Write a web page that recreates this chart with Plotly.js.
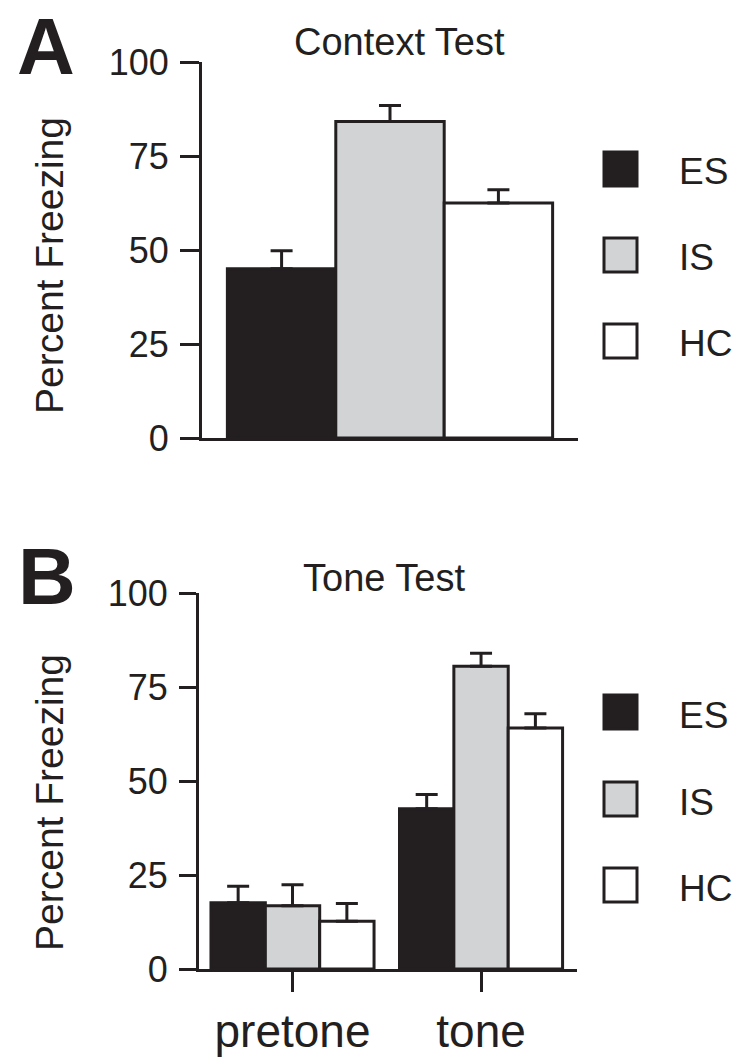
<!DOCTYPE html>
<html>
<head>
<meta charset="utf-8">
<script src="https://cdn.plot.ly/plotly-3.0.1.min.js"></script>
<style>
  html, body { margin: 0; padding: 0; background: #ffffff; }
  #chart { width: 752px; height: 1064px; }
</style>
</head>
<body>
<div id="chart"></div>
<script>
// ---------------- data ----------------
const seriesNames = ['ES', 'IS', 'HC'];
const contextGroups = ['Context'];
const toneGroups = ['pretone', 'tone'];

// Panel A: Context Test (percent freezing, mean and SEM)
const esContext = [45.0];
const isContext = [84.2];
const hcContext = [62.5];
const esContextErr = [4.8];
const isContextErr = [4.2];
const hcContextErr = [3.5];

// Panel B: Tone Test (pretone, tone)
const esTone = [17.6, 42.6];
const isTone = [16.8, 80.5];
const hcTone = [12.7, 64.1];
const esToneErr = [4.4, 3.8];
const isToneErr = [5.6, 3.5];
const hcToneErr = [4.7, 3.8];

const yTickVals = [0, 25, 50, 75, 100];
const yTickText = ['0', '25', '50', '75', '100'];

// ---------------- style ----------------
const W = 752, H = 1064;
const INK = '#231f20';
const fills = ['#231f20', '#d1d3d4', '#ffffff'];
const FONT = 'Liberation Sans, Arial, Helvetica, sans-serif';
const px = v => v / W;
const py = v => 1 - v / H;

const contextMeans = [esContext, isContext, hcContext];
const contextErrs = [esContextErr, isContextErr, hcContextErr];
const toneMeans = [esTone, isTone, hcTone];
const toneErrs = [esToneErr, isToneErr, hcToneErr];

function barTrace(name, idx, xs, ys, errs, xa, ya) {
  return {
    type: 'bar',
    name: name,
    x: xs,
    y: ys,
    xaxis: xa,
    yaxis: ya,
    showlegend: false,
    marker: { color: fills[idx], line: { color: INK, width: 3 } },
    error_y: {
      type: 'data',
      symmetric: false,
      array: errs,
      arrayminus: errs.map(() => 0),
      color: INK,
      thickness: 3,
      width: 11
    },
    hoverinfo: 'skip'
  };
}

const traces = [];
seriesNames.forEach((n, i) => {
  traces.push(barTrace(n, i, contextGroups, contextMeans[i], contextErrs[i], 'x', 'y'));
});
seriesNames.forEach((n, i) => {
  traces.push(barTrace(n, i, toneGroups, toneMeans[i], toneErrs[i], 'x2', 'y2'));
});

function yAxis(domain, anchor, ticklen) {
  return {
    domain: domain,
    anchor: anchor,
    range: [0, 100],
    tickmode: 'array',
    tickvals: yTickVals,
    ticktext: yTickText,
    ticks: 'outside',
    ticklen: ticklen,
    tickwidth: 3,
    tickcolor: INK,
    showline: true,
    linewidth: 3,
    linecolor: INK,
    showgrid: false,
    zeroline: false,
    tickfont: { family: FONT, size: 36, color: INK },
    ticklabelstandoff: 4,
    fixedrange: true
  };
}

const annotations = [];
const shapes = [];

function addText(text, x, y, size, opts) {
  annotations.push(Object.assign({
    text: text,
    xref: 'paper', yref: 'paper',
    x: px(x), y: py(y),
    xanchor: 'center', yanchor: 'middle',
    showarrow: false,
    font: { family: FONT, size: size, color: INK }
  }, opts || {}));
}

// panel letters
addText('<b>A</b>', 46, 46, 80);
addText('<b>B</b>', 47, 576, 80);
// panel titles
addText('Context Test', 399, 42, 38);
addText('Tone Test', 384, 578, 38);
// y titles
addText('Percent Freezing', 49, 266, 39, { textangle: -90 });
addText('Percent Freezing', 49, 803, 39, { textangle: -90 });

// legends (one per panel)
const legendRowsA = [169, 255, 341];
const legendRowsB = [712, 799, 885];
[legendRowsA, legendRowsB].forEach(rows => {
  seriesNames.forEach((n, i) => {
    const c = rows[i];
    shapes.push({
      type: 'rect', xref: 'paper', yref: 'paper',
      x0: px(604), x1: px(637), y0: py(c + 17), y1: py(c - 17),
      fillcolor: fills[i],
      line: { color: INK, width: 3 }
    });
    addText(n, 677, c + 3, 37, { xanchor: 'left' });
  });
});

const layout = {
  width: W,
  height: H,
  margin: { l: 0, r: 0, t: 0, b: 0, pad: 0 },
  paper_bgcolor: '#ffffff',
  plot_bgcolor: '#ffffff',
  barmode: 'group',
  bargap: 0.135,
  bargroupgap: 0,
  showlegend: false,
  font: { family: FONT, color: INK },
  xaxis: {
    domain: [px(202), px(578)],
    anchor: 'y',
    type: 'category',
    range: [-0.5, 0.5],
    showline: true,
    linewidth: 3,
    linecolor: INK,
    ticks: '',
    showticklabels: false,
    showgrid: false,
    zeroline: false,
    fixedrange: true
  },
  yaxis: yAxis([py(438), py(62)], 'x', 19),
  xaxis2: {
    domain: [px(199), px(577)],
    anchor: 'y2',
    type: 'category',
    range: [-0.496, 1.509],
    showline: true,
    linewidth: 3,
    linecolor: INK,
    ticks: 'outside',
    ticklen: 20,
    tickwidth: 3,
    tickcolor: INK,
    tickfont: { family: FONT, size: 46, color: INK },
    ticklabelstandoff: 0,
    showgrid: false,
    zeroline: false,
    fixedrange: true
  },
  yaxis2: yAxis([py(969), py(593)], 'x2', 17),
  annotations: annotations,
  shapes: shapes
};

Plotly.newPlot('chart', traces, layout, { staticPlot: true, displayModeBar: false });
</script>
</body>
</html>
